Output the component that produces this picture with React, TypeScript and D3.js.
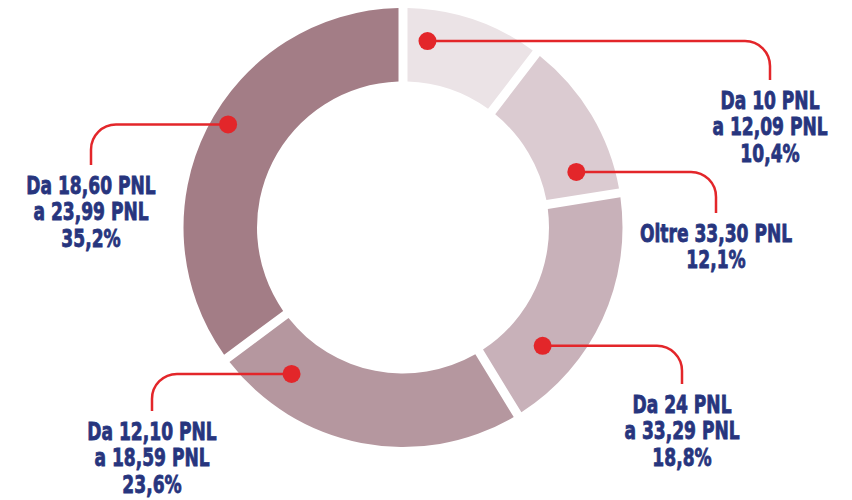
import React from "react";
import * as d3 from "d3";

// fasce di prezzo, in senso orario dalle 12
const categories = [
  ["Da 10 PNL", "a 12,09 PNL"],
  ["Oltre 33,30 PNL"],
  ["Da 24 PNL", "a 33,29 PNL"],
  ["Da 12,10 PNL", "a 18,59 PNL"],
  ["Da 18,60 PNL", "a 23,99 PNL"]
];
const values = [10.4, 12.1, 18.8, 23.6, 35.2];
const colors = ["#ebe3e6", "#dbcbd1", "#c8b1b9", "#b5979f", "#a37d86"];

// placement of the red markers and their labels
const dotFrac = [0.2, 0.8, 0.73, 0.81, 0.53];
const dotRadius = [188, 182, 183, 184, 203];
const labelX = [770, 716, 682, 152, 91];
const labelY = [109, 242, 413, 440, 194];

const width = 852;
const height = 500;
const cx = 403;
const cy = 227.5;
const outerR = 219.5;
const innerR = 146;
const fmt = (v: number) => d3.format(".1f")(v).replace(".", ",") + "%";

export default function App() {
  const pie = d3
    .pie<number>()
    .sort(null)
    .value(d => d);
  const arcs = pie(values);

  const arc = d3
    .arc<d3.PieArcDatum<number>>()
    .innerRadius(innerR)
    .outerRadius(outerR)
    .padAngle(9 / outerR)
    .padRadius(outerR);

  const lineH = 26.5;
  const corner = 25;

  return (
    <svg
      width={width}
      height={height}
      style={{ position: "absolute", left: 0, top: 0, background: "#fff" }}
    >
      <g transform={`translate(${cx},${cy})`}>
        {arcs.map((d, i) => (
          <path key={i} d={arc(d) || ""} fill={colors[i]} />
        ))}
      </g>
      {arcs.map((d, i) => {
        const a = d.startAngle + (d.endAngle - d.startAngle) * dotFrac[i];
        const x = cx + dotRadius[i] * Math.sin(a);
        const y = cy - dotRadius[i] * Math.cos(a);
        const lx = labelX[i];
        const endY = labelY[i] - 29;
        const right = lx > x;
        const path = right
          ? `M${x},${y}H${lx - corner}A${corner},${corner} 0 0 1 ${lx},${y + corner}V${endY}`
          : `M${x},${y}H${lx + corner}A${corner},${corner} 0 0 0 ${lx},${y + corner}V${endY}`;
        const lines = [...categories[i], fmt(values[i])];
        return (
          <g key={i}>
            <path d={path} fill="none" stroke="#e3262a" strokeWidth={2.5} />
            <circle cx={x} cy={y} r={9} fill="#e3262a" />
            <text
              transform={`translate(${lx},0) scale(0.76,1)`}
              textAnchor="middle"
              fontFamily="'DejaVu Sans Condensed', 'DejaVu Sans', sans-serif"
              fontWeight="bold"
              fontSize={25}
              fill="#27357e"
              stroke="#27357e"
              strokeWidth={0.8}
            >
              {lines.map((t, j) => (
                <tspan key={j} x={0} y={labelY[i] + j * lineH}>
                  {t}
                </tspan>
              ))}
            </text>
          </g>
        );
      })}
    </svg>
  );
}
